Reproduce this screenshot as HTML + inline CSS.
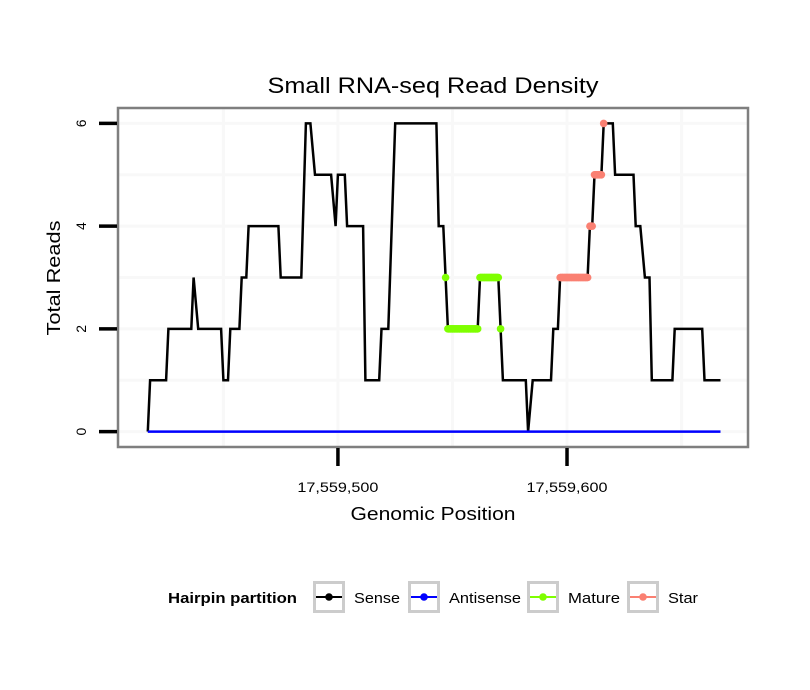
<!DOCTYPE html>
<html><head><meta charset="utf-8"><style>
body{margin:0;background:#fff;}
svg{display:block;font-family:"Liberation Sans",sans-serif;}
</style></head><body>
<svg id="chart" width="810" height="690"></svg>
<script>
// runs: [startPos, endPos, reads] (offset from 17,559,000)
const senseRuns=[[417,417,0],[418,425,1],[426,436,2],[437,437,3],[439,449,2],[450,452,1],[453,457,2],[458,460,3],[461,474,4],[475,484,3],[486,488,6],[490,497,5],[499,499,4],[500,503,5],[504,511,4],[512,518,1],[519,522,2],[525,543,6],[544,546,4],[547,547,3],[548,561,2],[562,570,3],[571,571,2],[572,582,1],[583,583,0],[585,593,1],[594,596,2],[597,609,3],[610,611,4],[612,615,5],[616,620,6],[621,629,5],[630,632,4],[634,636,3],[637,646,1],[647,659,2],[660,667,1]];
const antisenseRuns=[[417,667,0]];
const matureRange=[547,571];
const starRange=[597,616];
const xTickVals=[500,600];
const xTickLabels=["17,559,500","17,559,600"];
const yTickVals=[0,2,4,6];
const yTickLabels=["0","2","4","6"];
const xMinor=[450,550,650];
const yMinor=[1,3,5];

const NS="http://www.w3.org/2000/svg";
const svg=document.getElementById('chart');
const L=118,R=748,T=108,B=447;
const xDom=[404,679], yDom=[-0.3,6.3];
function xs(v){return L+(v-xDom[0])/(xDom[1]-xDom[0])*(R-L);}
function ys(v){return B-(v-yDom[0])/(yDom[1]-yDom[0])*(B-T);}
function mk(tag,attrs,parent){const e=document.createElementNS(NS,tag);for(const k in attrs)e.setAttribute(k,attrs[k]);(parent||svg).appendChild(e);return e;}
function pts(runs){const p=[];runs.forEach(r=>{p.push([r[0],r[2]]);if(r[1]!==r[0])p.push([r[1],r[2]]);});return p;}
function toStr(p){return p.map(q=>xs(q[0]).toFixed(1)+','+ys(q[1]).toFixed(1)).join(' ');}

const title=mk('text',{x:433,y:93,'text-anchor':'middle','font-size':22,fill:'#000',textLength:331,lengthAdjust:'spacingAndGlyphs'});
title.textContent='Small RNA-seq Read Density';



const grid=mk('g',{});


xMinor.concat(xTickVals).forEach(v=>{mk('line',{x1:xs(v),x2:xs(v),y1:T,y2:B,stroke:'#f8f8f8','stroke-width':3},grid);});
yMinor.concat(yTickVals).forEach(v=>{mk('line',{x1:L,x2:R,y1:ys(v),y2:ys(v),stroke:'#f8f8f8','stroke-width':3},grid);});

const sp=pts(senseRuns);
const sl=mk('polyline',{points:toStr(sp),fill:'none',stroke:'#000','stroke-width':2.5,'stroke-linejoin':'miter'});


const al=mk('polyline',{points:toStr(pts(antisenseRuns)),fill:'none',stroke:'#0000ff','stroke-width':2.5});



function valAt(pos){for(const r of senseRuns){if(pos>=r[0]&&pos<=r[1])return r[2];}return null;}
function overlay(range,color,name){
  const g=mk('g',{});
  
  
  for(let p=range[0];p<=range[1];p++){const v=valAt(p);if(v===null)continue;
    mk('circle',{cx:xs(p),cy:ys(v),r:3.8,fill:color},g);
    const nv=valAt(p+1);
    if(p<range[1]&&nv===v)mk('line',{x1:xs(p),x2:xs(p+1),y1:ys(v),y2:ys(v),stroke:color,'stroke-width':7.6},g);
  }
}
overlay(matureRange,'#7fff00','mature-points');
overlay(starRange,'#fa8072','star-points');

const border=mk('rect',{x:L,y:T,width:R-L,height:B-T,fill:'none',stroke:'#7f7f7f','stroke-width':2.5});



yTickVals.forEach((v,i)=>{
  mk('line',{x1:99,x2:117,y1:ys(v),y2:ys(v),stroke:'#000','stroke-width':3.5});
  const t=mk('text',{x:0,y:0,'text-anchor':'middle','font-size':14,transform:'translate(86,'+ys(v)+') rotate(-90)'});
  t.textContent=yTickLabels[i];
  
  
});
xTickVals.forEach((v,i)=>{
  mk('line',{x1:xs(v),x2:xs(v),y1:448,y2:466,stroke:'#000','stroke-width':3.5});
  const t=mk('text',{x:xs(v),y:492,'text-anchor':'middle','font-size':14,textLength:81,lengthAdjust:'spacingAndGlyphs'});
  t.textContent=xTickLabels[i];
  
  
});
const xt=mk('text',{x:433,y:520,'text-anchor':'middle','font-size':18,textLength:165,lengthAdjust:'spacingAndGlyphs'});
xt.textContent='Genomic Position';


const yt=mk('text',{x:0,y:0,'text-anchor':'middle','font-size':18,textLength:115,lengthAdjust:'spacingAndGlyphs',transform:'translate(60,278) rotate(-90)'});
yt.textContent='Total Reads';



const lt=mk('text',{x:168,y:603,'font-size':15,'font-weight':'bold',textLength:129,lengthAdjust:'spacingAndGlyphs'});
lt.textContent='Hairpin partition';


const legend=[['Sense','#000',313,46],['Antisense','#0000ff',408,72],['Mature','#7fff00',527,52],['Star','#fa8072',627,30]];
legend.forEach(e=>{
  const g=mk('g',{});
  
  
  mk('rect',{x:e[2]+1.5,y:582.5,width:29,height:29,fill:'#fff',stroke:'#cccccc','stroke-width':3},g);
  mk('line',{x1:e[2]+3,x2:e[2]+29,y1:597,y2:597,stroke:e[1],'stroke-width':2},g);
  mk('circle',{cx:e[2]+16,cy:597,r:3.8,fill:e[1]},g);
  const t=mk('text',{x:e[2]+41,y:603,'font-size':15,textLength:e[3],lengthAdjust:'spacingAndGlyphs'},g);
  t.textContent=e[0];
});
</script>
</body></html>
